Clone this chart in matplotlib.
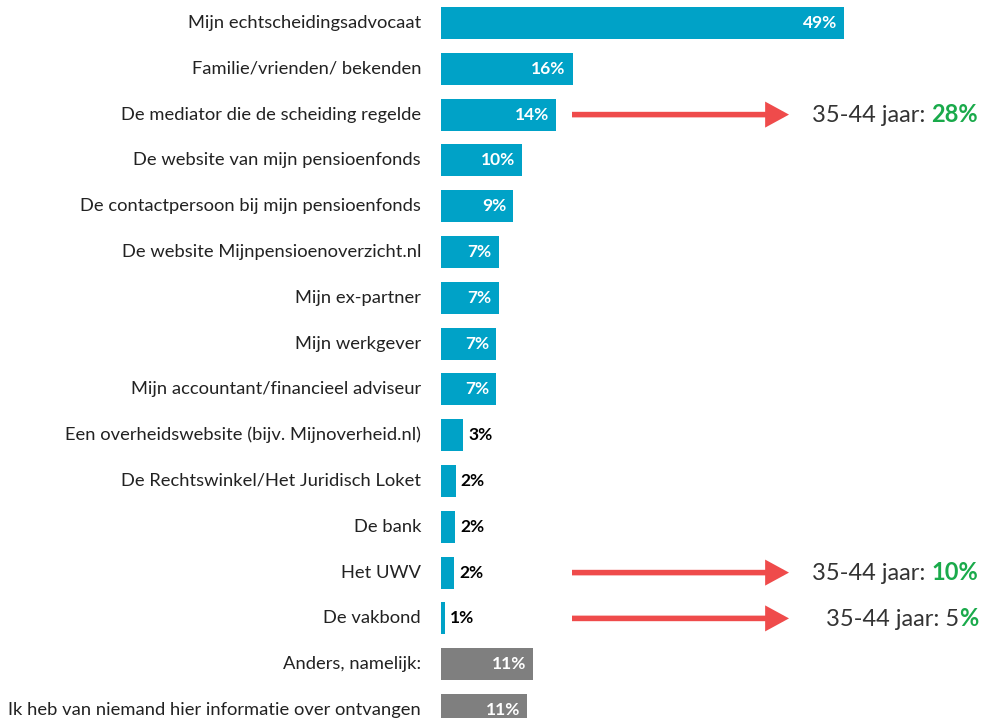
import matplotlib
matplotlib.use("Agg")
import matplotlib.pyplot as plt

# Bronnen van informatie (volgorde van boven naar beneden)
labels = [
    "Mijn echtscheidingsadvocaat",
    "Familie/vrienden/ bekenden",
    "De mediator die de scheiding regelde",
    "De website van mijn pensioenfonds",
    "De contactpersoon bij mijn pensioenfonds",
    "De website Mijnpensioenoverzicht.nl",
    "Mijn ex-partner",
    "Mijn werkgever",
    "Mijn accountant/financieel adviseur",
    "Een overheidswebsite (bijv. Mijnoverheid.nl)",
    "De Rechtswinkel/Het Juridisch Loket",
    "De bank",
    "Het UWV",
    "De vakbond",
    "Anders, namelijk:",
    "Ik heb van niemand hier informatie over ontvangen",
]
values = [49.0, 16.0, 14.0, 9.9, 8.8, 7.0, 7.0, 6.7, 6.7, 2.7, 1.8, 1.7, 1.6, 0.5, 11.2, 10.5]
value_text = ["49%", "16%", "14%", "10%", "9%", "7%", "7%", "7%", "7%",
              "3%", "2%", "2%", "2%", "1%", "11%", "11%"]
grey_rows = [14, 15]

# Uitsplitsing 35-44 jaar
callout_rows = [2, 12, 13]
callout_grey = ["35-44 jaar: ", "35-44 jaar: ", "35-44 jaar: 5"]
callout_green = ["28%", "10%", "%"]

BLUE = "#00A2C7"
GREY = "#7F7F7F"
RED = "#EF4B4B"
GREEN = "#1AAA4B"
TXT = "#333333"

plt.rcParams["font.family"] = ["Lato", "DejaVu Sans"]

W, H = 981, 718
fig = plt.figure(figsize=(W / 100, H / 100), dpi=100)
x0 = 441
ax = fig.add_axes([x0 / W, 0, (W - x0) / W, 1])
px_per = 8.22
step = 45.8
top = 23
ax.set_xlim(0, (W - x0) / px_per)
ax.set_ylim((H - top) / step, -top / step)
ax.axis("off")

ypos = list(range(len(labels)))
colors = [GREY if i in grey_rows else BLUE for i in ypos]
ax.barh(ypos, values, height=0.7, color=colors)

for i, (v, t) in enumerate(zip(values, value_text)):
    ax.text(-20 / px_per, i, labels[i], ha="right", va="center",
            fontsize=13.2, color="#222222", clip_on=False)
    if v >= 6:
        ax.annotate(t, (v, i), xytext=(-7, 0), textcoords="offset pixels",
                    ha="right", va="center", fontsize=12.5, fontweight="bold",
                    color="white")
    else:
        ax.annotate(t, (v, i), xytext=(5, 0), textcoords="offset pixels",
                    ha="left", va="center", fontsize=12.5,
                    fontweight="bold", color="black")

for r, g_txt, gr_txt in zip(callout_rows, callout_grey, callout_green):
    ax.annotate("", xy=((789 - x0) / px_per, r), xytext=((572 - x0) / px_per, r),
                arrowprops=dict(arrowstyle="-|>,head_length=1.1,head_width=0.6",
                                color=RED, lw=4, shrinkA=0, shrinkB=0,
                                capstyle="butt", joinstyle="miter"))
    green = ax.text((978 - x0) / px_per, r, gr_txt, ha="right", va="center",
                    fontsize=17, fontweight="bold", color=GREEN, clip_on=False)
    ax.annotate(g_txt, xy=(0, 0), xycoords=green, ha="right", va="bottom",
                fontsize=17, color=TXT, annotation_clip=False)

fig.savefig("out.png", dpi=100)
